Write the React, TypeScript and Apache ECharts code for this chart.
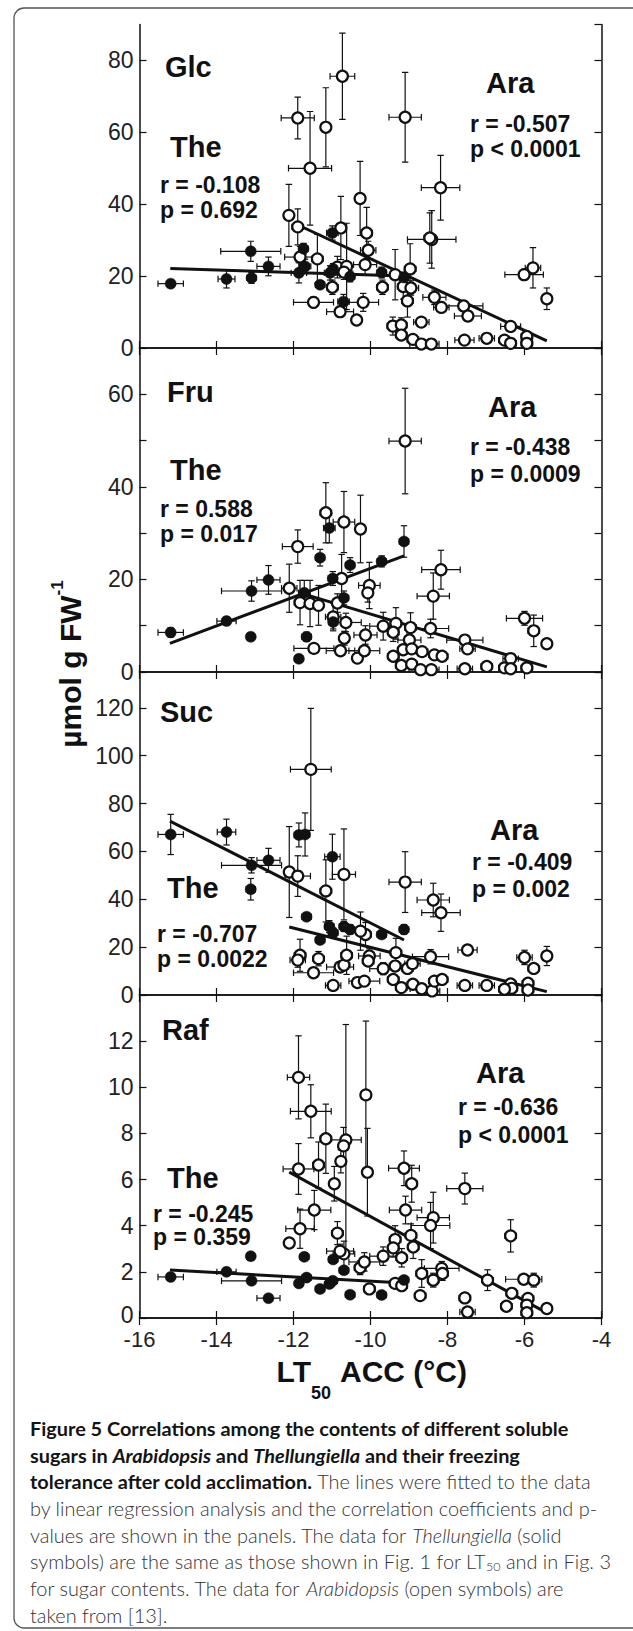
import React, { useEffect, useRef } from "react";
import * as echarts from "echarts";

// ---------------- data: [LT50 (°C), content, xErr, yErr] ----------------
const xTicks = [-16, -14, -12, -10, -8, -6, -4];
const panelNames = ["Glc", "Fru", "Suc", "Raf"];
const yMax = [90, 70, 135, 14];
const yInterval = [20, 10, 20, 2];
const yLabelStep = [20, 20, 20, 2];

const glcThe = [
  [-15.19, 17.9, 0.33, 1.0], [-13.74, 19.2, 0.22, 2.5], [-13.11, 26.9, 0.78, 2.8], [-13.09, 19.5, 0.12, 1.5],
  [-12.65, 22.7, 0.3, 2.6], [-11.86, 20.9, 0.2, 2.8], [-11.7, 22.7, 0.15, 2.0], [-11.74, 27.6, 0.12, 1.5],
  [-11.31, 17.6, 0.12, 1.0], [-10.99, 32.0, 0.15, 2.0], [-11.05, 20.9, 0.15, 2.0], [-10.97, 22.0, 0.1, 1.5],
  [-10.7, 12.9, 0.15, 2.0], [-10.53, 19.9, 0.12, 1.5], [-9.71, 21.0, 0.12, 1.5], [-9.13, 19.6, 0.12, 1.5],
];
const glcAra = [
  [-11.89, 64.0, 0.43, 5.8], [-11.16, 61.4, 0.1, 11.0], [-11.57, 50.0, 0.56, 15.8], [-10.73, 75.6, 0.32, 12.0],
  [-9.1, 64.2, 0.42, 12.5], [-8.18, 44.6, 0.5, 9.0], [-10.27, 41.6, 0.1, 10.3], [-10.1, 32.0, 0.15, 7.1],
  [-10.06, 27.2, 0.2, 2.5], [-12.12, 36.9, 0.1, 8.6], [-11.89, 33.7, 0.15, 5.0], [-10.77, 33.4, 0.1, 8.8],
  [-11.83, 25.3, 0.4, 3.0], [-11.38, 24.8, 0.15, 6.8], [-10.86, 22.5, 0.15, 3.0], [-10.62, 22.7, 0.12, 12.0],
  [-10.14, 23.2, 0.3, 3.0], [-10.69, 21.1, 0.12, 2.0], [-9.36, 20.4, 0.3, 7.0], [-8.97, 22.0, 0.15, 7.0],
  [-8.41, 30.2, 0.63, 8.0], [-8.46, 30.6, 0.15, 7.0], [-9.69, 16.9, 0.15, 2.0], [-9.15, 17.1, 0.15, 3.5],
  [-8.95, 16.7, 0.2, 2.0], [-9.04, 13.1, 0.15, 4.5], [-8.34, 14.1, 0.3, 2.0], [-8.16, 11.3, 0.2, 1.5],
  [-7.58, 11.7, 0.5, 1.5], [-7.47, 8.9, 0.35, 1.5], [-10.99, 16.9, 0.15, 2.0], [-11.48, 12.7, 0.52, 1.5],
  [-10.79, 10.1, 0.35, 1.5], [-10.36, 7.8, 0.12, 1.0], [-10.19, 12.7, 0.4, 2.5], [-9.42, 6.1, 0.15, 2.5],
  [-9.2, 6.4, 0.15, 2.0], [-8.68, 7.2, 0.2, 1.0], [-9.2, 3.6, 0.15, 1.0], [-8.9, 2.4, 0.15, 1.0],
  [-8.68, 1.1, 0.3, 0.8], [-8.42, 1.1, 0.2, 0.8], [-7.56, 2.2, 0.25, 0.8], [-6.98, 2.7, 0.2, 0.8],
  [-6.52, 2.2, 0.15, 0.8], [-6.36, 1.3, 0.15, 0.8], [-6.36, 6.0, 0.26, 1.0], [-5.94, 3.2, 0.15, 1.0],
  [-5.94, 1.3, 0.15, 0.8], [-6.01, 20.4, 0.5, 1.5], [-5.78, 22.3, 0.2, 5.6], [-5.42, 13.7, 0.12, 3.0],
];
const fruThe = [
  [-15.19, 8.55, 0.33, 1.0], [-13.74, 11.0, 0.25, 0.8], [-13.11, 7.6, 0.1, 0.8], [-13.09, 17.5, 0.78, 2.2],
  [-12.65, 19.9, 0.3, 3.1], [-11.86, 2.85, 0.1, 0.5], [-11.66, 7.6, 0.12, 1.0], [-11.72, 17.1, 0.15, 2.7],
  [-11.31, 24.7, 0.12, 1.8], [-11.07, 31.1, 0.15, 3.2], [-10.98, 20.2, 0.12, 1.5], [-10.97, 10.8, 0.12, 1.5],
  [-10.69, 16.0, 0.12, 1.5], [-10.53, 23.1, 0.12, 1.6], [-9.71, 23.9, 0.12, 1.2], [-9.13, 28.2, 0.12, 3.4],
];
const fruAra = [
  [-9.1, 49.9, 0.42, 11.4], [-11.16, 34.4, 0.15, 6.5], [-10.69, 32.4, 0.28, 6.6], [-10.26, 30.9, 0.1, 7.3],
  [-11.89, 27.1, 0.4, 3.6], [-10.75, 20.2, 0.12, 5.2], [-12.11, 18.1, 0.2, 5.2], [-10.03, 18.7, 0.28, 5.0],
  [-10.07, 17.1, 0.12, 2.0], [-8.17, 22.1, 0.5, 4.2], [-8.37, 16.4, 0.42, 5.0], [-11.83, 15.0, 0.15, 4.8],
  [-11.57, 14.8, 0.12, 5.0], [-11.35, 14.4, 0.12, 4.3], [-10.86, 14.9, 0.12, 2.0], [-10.97, 11.9, 0.2, 3.0],
  [-10.64, 10.7, 0.4, 2.0], [-10.68, 7.3, 0.12, 1.5], [-10.13, 8.0, 0.3, 2.0], [-11.47, 5.1, 0.52, 1.0],
  [-10.78, 4.6, 0.37, 1.0], [-10.34, 3.0, 0.12, 0.8], [-10.16, 4.6, 0.4, 1.0], [-9.67, 9.9, 0.35, 3.0],
  [-9.34, 10.5, 0.15, 3.4], [-9.41, 8.6, 0.15, 2.0], [-8.96, 9.6, 0.15, 3.2], [-8.99, 6.9, 0.3, 1.5],
  [-8.44, 9.4, 0.47, 2.0], [-9.15, 4.8, 0.15, 1.0], [-8.93, 5.0, 0.15, 1.0], [-8.66, 4.4, 0.15, 1.0],
  [-9.41, 3.4, 0.15, 0.8], [-8.34, 3.7, 0.15, 0.8], [-8.14, 3.4, 0.15, 0.8], [-9.2, 1.4, 0.15, 0.6],
  [-8.93, 1.7, 0.15, 0.6], [-8.7, 0.5, 0.3, 0.4], [-8.42, 0.5, 0.2, 0.4], [-7.55, 6.9, 0.47, 1.0],
  [-7.48, 5.0, 0.2, 1.0], [-7.55, 0.7, 0.2, 0.4], [-6.98, 1.2, 0.15, 0.4], [-6.52, 0.9, 0.15, 0.4],
  [-6.36, 2.9, 0.2, 0.8], [-6.36, 0.7, 0.15, 0.4], [-6.0, 11.6, 0.47, 1.5], [-5.76, 8.9, 0.15, 3.4],
  [-5.94, 0.9, 0.15, 0.4], [-5.42, 6.1, 0.12, 1.0],
];
const sucThe = [
  [-15.19, 67.1, 0.33, 8.4], [-13.74, 68.1, 0.24, 5.4], [-13.09, 54.2, 0.78, 3.2], [-13.11, 44.2, 0.12, 4.5],
  [-12.65, 56.3, 0.3, 5.0], [-11.86, 66.9, 0.12, 5.0], [-11.7, 67.1, 0.12, 9.0], [-10.99, 57.8, 0.2, 9.4],
  [-11.66, 32.7, 0.12, 1.5], [-11.31, 23.0, 0.12, 1.5], [-11.07, 28.6, 0.12, 2.5], [-10.97, 26.0, 0.12, 2.0],
  [-10.69, 28.6, 0.12, 2.0], [-10.53, 27.4, 0.12, 2.0], [-9.71, 25.3, 0.12, 1.5], [-9.13, 27.4, 0.12, 2.0],
];
const sucAra = [
  [-11.55, 94.3, 0.53, 25.5], [-12.11, 51.4, 0.1, 19.0], [-11.89, 49.7, 0.33, 8.5], [-10.69, 50.4, 0.3, 19.0],
  [-11.16, 43.5, 0.15, 13.0], [-9.1, 47.2, 0.42, 12.7], [-8.37, 39.7, 0.42, 7.0], [-8.17, 34.4, 0.5, 7.8],
  [-10.13, 25.3, 0.15, 5.0], [-10.26, 26.7, 0.1, 8.0], [-11.83, 16.6, 0.15, 6.7], [-11.89, 14.6, 0.2, 3.0],
  [-11.48, 9.3, 0.52, 2.0], [-11.35, 15.2, 0.15, 3.0], [-10.97, 4.0, 0.2, 1.5], [-10.79, 11.7, 0.35, 2.0],
  [-10.69, 12.5, 0.15, 2.0], [-10.62, 16.6, 0.15, 8.0], [-10.03, 16.3, 0.28, 3.0], [-10.06, 14.2, 0.15, 2.0],
  [-10.34, 5.2, 0.12, 1.5], [-10.16, 5.8, 0.4, 1.5], [-9.67, 11.0, 0.35, 2.5], [-9.34, 17.7, 0.15, 6.0],
  [-9.36, 12.1, 0.15, 2.0], [-9.41, 6.5, 0.15, 2.0], [-9.2, 3.1, 0.15, 1.0], [-9.04, 11.1, 0.15, 2.0],
  [-8.91, 13.1, 0.2, 2.0], [-8.9, 4.5, 0.15, 1.0], [-8.67, 2.6, 0.3, 1.0], [-8.4, 1.7, 0.2, 0.8],
  [-8.34, 5.8, 0.15, 1.0], [-8.14, 6.5, 0.15, 1.0], [-8.44, 16.0, 0.47, 3.0], [-7.48, 18.8, 0.25, 2.0],
  [-7.55, 4.0, 0.2, 1.0], [-6.98, 4.0, 0.2, 1.0], [-6.0, 15.7, 0.2, 3.0], [-5.42, 16.3, 0.12, 4.0],
  [-5.76, 11.1, 0.15, 2.0], [-6.36, 4.6, 0.15, 1.0], [-6.33, 2.8, 0.15, 1.0], [-5.91, 4.9, 0.15, 1.0],
  [-5.91, 2.1, 0.15, 0.8], [-6.52, 2.4, 0.15, 0.8],
];
const rafThe = [
  [-15.19, 1.78, 0.33, 0.1], [-13.74, 2.0, 0.25, 0.1], [-13.09, 1.61, 0.78, 0.1], [-13.11, 2.68, 0.1, 0.1],
  [-12.65, 0.86, 0.3, 0.1], [-11.86, 1.5, 0.1, 0.1], [-11.66, 1.75, 0.12, 0.15], [-11.72, 2.65, 0.12, 0.15],
  [-11.31, 1.26, 0.12, 0.1], [-10.97, 2.54, 0.12, 0.15], [-11.07, 1.47, 0.12, 0.1], [-10.98, 1.61, 0.12, 0.1],
  [-10.69, 2.07, 0.12, 0.15], [-10.53, 1.01, 0.12, 0.1], [-9.71, 1.0, 0.12, 0.1], [-9.13, 1.65, 0.12, 0.15],
];
const rafAra = [
  [-11.87, 10.43, 0.29, 1.8], [-11.55, 8.96, 0.53, 1.15], [-10.12, 9.67, 0.12, 3.2], [-11.16, 7.77, 0.15, 1.5],
  [-10.64, 7.72, 0.4, 5.0], [-10.7, 7.46, 0.12, 0.8], [-11.87, 6.46, 0.4, 1.1], [-11.35, 6.63, 0.15, 1.0],
  [-10.77, 6.79, 0.12, 0.5], [-10.08, 6.32, 0.12, 1.9], [-10.94, 5.82, 0.12, 0.75], [-11.46, 4.68, 0.43, 0.85],
  [-11.83, 3.87, 0.37, 0.85], [-12.11, 3.25, 0.1, 0.2], [-10.86, 3.68, 0.15, 0.5], [-10.69, 2.78, 0.28, 0.55],
  [-10.79, 2.9, 0.35, 0.3], [-10.27, 2.18, 0.15, 0.3], [-10.16, 2.43, 0.4, 0.4], [-9.67, 2.68, 0.35, 0.4],
  [-9.36, 3.4, 0.15, 0.6], [-9.41, 3.04, 0.15, 0.4], [-9.19, 2.61, 0.15, 0.4], [-9.13, 6.49, 0.4, 0.75],
  [-8.93, 5.82, 0.15, 0.8], [-9.09, 4.68, 0.42, 0.6], [-8.95, 3.58, 0.15, 0.5], [-8.89, 3.08, 0.15, 0.5],
  [-8.37, 4.35, 0.42, 1.1], [-8.44, 4.01, 0.5, 1.0], [-7.55, 5.61, 0.47, 0.67], [-8.67, 1.93, 0.15, 0.6],
  [-8.37, 1.64, 0.15, 0.3], [-8.15, 2.15, 0.45, 0.3], [-8.13, 1.93, 0.15, 0.3], [-8.71, 0.97, 0.15, 0.2],
  [-10.03, 1.26, 0.15, 0.2], [-9.36, 1.5, 0.15, 0.2], [-9.19, 1.4, 0.15, 0.2], [-7.55, 0.87, 0.15, 0.2],
  [-7.48, 0.26, 0.2, 0.2], [-6.96, 1.64, 0.15, 0.45], [-6.36, 3.56, 0.15, 0.7], [-6.02, 1.68, 0.47, 0.2],
  [-5.76, 1.64, 0.15, 0.3], [-6.33, 1.07, 0.15, 0.2], [-5.91, 0.85, 0.15, 0.2], [-6.47, 0.51, 0.15, 0.2],
  [-5.94, 0.56, 0.15, 0.2], [-5.94, 0.23, 0.15, 0.15], [-5.42, 0.41, 0.12, 0.15],
];

// regression line end points
const glcTheFit = [[-15.2, 22.1], [-9.13, 20.0]];
const glcAraFit = [[-11.8, 33.8], [-5.42, 2.0]];
const fruTheFit = [[-15.21, 6.2], [-9.13, 25.1]];
const fruAraFit = [[-11.79, 17.0], [-5.42, 1.1]];
const sucTheFit = [[-15.21, 72.7], [-9.13, 23.0]];
const sucAraFit = [[-12.11, 28.4], [-5.42, 1.4]];
const rafTheFit = [[-15.21, 2.08], [-9.13, 1.52]];
const rafAraFit = [[-12.11, 6.32], [-5.42, 0.22]];

const statsThe = [["r = -0.108", "p = 0.692"], ["r = 0.588", "p = 0.017"], ["r = -0.707", "p = 0.0022"], ["r = -0.245", "p = 0.359"]];
const statsAra = [["r = -0.507", "p < 0.0001"], ["r = -0.438", "p = 0.0009"], ["r = -0.409", "p = 0.002"], ["r = -0.636", "p < 0.0001"]];

const theSets = [glcThe, fruThe, sucThe, rafThe];
const araSets = [glcAra, fruAra, sucAra, rafAra];
const theFits = [glcTheFit, fruTheFit, sucTheFit, rafTheFit];
const araFits = [glcAraFit, fruAraFit, sucAraFit, rafAraFit];

// ---------------- layout ----------------
const W = 633;
const H = 1631;
const INK = "#111";
const AX = "'Liberation Sans', Arial, Helvetica, sans-serif";
const CAP = "Lato, 'Open Sans', sans-serif";
const gridLeft = 139.5;
const gridWidth = 462;
const gridTops = [24.5, 348, 672, 995];
const gridHeights = [323.5, 324, 323, 323];

// text anchors: [x, baseline]
const nameAt = [[165, 77], [167, 402], [160, 722], [162, 1040]];
const theAt = [[170, 157], [170, 480], [167, 898], [167, 1188]];
const theStatAt = [[160, 193, 218], [160, 517, 542], [157, 942, 967], [153, 1222, 1245]];
const araAt = [[486, 93], [488, 417], [490, 840], [476, 1083]];
const araStatAt = [[470, 132, 157], [470, 455, 482], [472, 870, 897], [458, 1115, 1143]];

const captionLines = [
  "{b|Figure 5 Correlations among the contents of different soluble}",
  "{b|sugars in }{bi|Arabidopsis}{b| and }{bi|Thellungiella}{b| and their freezing}",
  "{b|tolerance after cold acclimation.}{r| The lines were fitted to the data}",
  "{r|by linear regression analysis and the correlation coefficients and p-}",
  "{r|values are shown in the panels. The data for }{i|Thellungiella}{r| (solid}",
  "{r|symbols) are the same as those shown in Fig. 1 for LT}{sub|50}{r| and in Fig. 3}",
  "{r|for sugar contents. The data for }{i|Arabidopsis}{r| (open symbols) are}",
  "{r|taken from [13].}",
];
const captionBase = [1435, 1461.7, 1488.3, 1515, 1541.7, 1568.3, 1595, 1621.7];

function errRender(_params: any, api: any) {
  const x = api.value(0);
  const y = api.value(1);
  const xe = api.value(2);
  const ye = api.value(3);
  const l = api.coord([x - xe, y]);
  const r = api.coord([x + xe, y]);
  const t = api.coord([x, y + ye]);
  const b = api.coord([x, y - ye]);
  const cap = 3.2;
  const st = { stroke: INK, lineWidth: 1.2, fill: "none" };
  const ch: any[] = [];
  if (xe > 0) {
    ch.push({ type: "line", shape: { x1: l[0], y1: l[1], x2: r[0], y2: r[1] }, style: st });
    ch.push({ type: "line", shape: { x1: l[0], y1: l[1] - cap, x2: l[0], y2: l[1] + cap }, style: st });
    ch.push({ type: "line", shape: { x1: r[0], y1: r[1] - cap, x2: r[0], y2: r[1] + cap }, style: st });
  }
  if (ye > 0) {
    ch.push({ type: "line", shape: { x1: t[0], y1: t[1], x2: b[0], y2: b[1] }, style: st });
    ch.push({ type: "line", shape: { x1: t[0] - cap, y1: t[1], x2: t[0] + cap, y2: t[1] }, style: st });
    ch.push({ type: "line", shape: { x1: b[0] - cap, y1: b[1], x2: b[0] + cap, y2: b[1] }, style: st });
  }
  return { type: "group", children: ch };
}

function txt(text: string, x: number, base: number, size: number, weight = "bold") {
  return {
    type: "text",
    z: 50,
    style: {
      text,
      x,
      y: base - 0.35 * size,
      fontSize: size,
      fontWeight: weight,
      fontFamily: AX,
      fill: INK,
      align: "left",
      textAlign: "left",
      verticalAlign: "middle",
      textVerticalAlign: "middle",
    },
  };
}

function buildOption() {
  const grid: any[] = [];
  const xAxis: any[] = [];
  const yAxis: any[] = [];
  const series: any[] = [];
  const lineCfg = { show: true, lineStyle: { color: INK, width: 1.5 } };
  const tickCfg = { show: true, inside: true, length: 7, lineStyle: { color: INK, width: 1.2 } };

  for (let i = 0; i < 4; i++) {
    grid.push({ left: gridLeft, width: gridWidth, top: gridTops[i], height: gridHeights[i], containLabel: false });
    const xBase = {
      type: "value",
      gridIndex: i,
      min: xTicks[0],
      max: xTicks[xTicks.length - 1],
      interval: 2,
      splitLine: { show: false },
      axisLine: lineCfg,
      axisTick: tickCfg,
    };
    xAxis.push({
      ...xBase,
      position: "bottom",
      axisLabel: {
        show: i === 3,
        fontSize: 22,
        fontFamily: AX,
        color: "#222",
        margin: 10,
        showMinLabel: true,
        showMaxLabel: true,
      },
    });
    xAxis.push({ ...xBase, position: "top", axisLabel: { show: false } });
    const step = yLabelStep[i];
    const last = i === 3;
    const yBase = {
      type: "value",
      gridIndex: i,
      min: 0,
      max: yMax[i],
      interval: yInterval[i],
      splitLine: { show: false },
      axisLine: lineCfg,
      axisTick: tickCfg,
    };
    yAxis.push({
      ...yBase,
      position: "left",
      axisLabel: {
        show: true,
        fontSize: 23,
        fontFamily: AX,
        color: "#222",
        margin: 6,
        showMaxLabel: false,
        formatter: (v: number) => {
          if (Math.round(v) % step !== 0) return "";
          if (last && v === 0) return "{z|0}";
          return String(v);
        },
        rich: { z: { fontSize: 23, fontFamily: AX, color: "#222", padding: [0, 0, 6, 0] } },
      },
    });
    yAxis.push({ ...yBase, position: "right", axisLabel: { show: false } });

    const xi = i * 2;
    const yi = i * 2;
    const errData = [...araSets[i], ...theSets[i]];
    series.push({
      type: "custom",
      xAxisIndex: xi,
      yAxisIndex: yi,
      data: errData,
      renderItem: errRender,
      encode: { x: 0, y: 1 },
      clip: true,
      z: 2,
      silent: true,
    });
    series.push({
      type: "line",
      xAxisIndex: xi,
      yAxisIndex: yi,
      data: araFits[i],
      showSymbol: false,
      lineStyle: { color: INK, width: 3 },
      z: 3,
      silent: true,
    });
    series.push({
      type: "line",
      xAxisIndex: xi,
      yAxisIndex: yi,
      data: theFits[i],
      showSymbol: false,
      lineStyle: { color: INK, width: 3 },
      z: 3,
      silent: true,
    });
    series.push({
      type: "scatter",
      xAxisIndex: xi,
      yAxisIndex: yi,
      data: araSets[i].map((d) => [d[0], d[1]]),
      symbol: "circle",
      symbolSize: 11,
      itemStyle: { color: "#fff", borderColor: INK, borderWidth: 2.2, opacity: 1 },
      z: 4,
      silent: true,
    });
    series.push({
      type: "scatter",
      xAxisIndex: xi,
      yAxisIndex: yi,
      data: theSets[i].map((d) => [d[0], d[1]]),
      symbol: "circle",
      symbolSize: 11,
      itemStyle: { color: INK, borderColor: INK, borderWidth: 0.5, opacity: 1 },
      z: 5,
      silent: true,
    });
  }

  const graphic: any[] = [];
  graphic.push({
    type: "rect",
    z: 0,
    shape: { x: 14, y: 8, width: 640, height: 1620, r: 10 },
    style: { fill: "none", stroke: "#555", lineWidth: 1.3 },
    silent: true,
  });
  for (let i = 0; i < 4; i++) {
    graphic.push(txt(panelNames[i], nameAt[i][0], nameAt[i][1], 29));
    graphic.push(txt("The", theAt[i][0], theAt[i][1], 29));
    graphic.push(txt(statsThe[i][0], theStatAt[i][0], theStatAt[i][1], 23));
    graphic.push(txt(statsThe[i][1], theStatAt[i][0], theStatAt[i][2], 23));
    graphic.push(txt("Ara", araAt[i][0], araAt[i][1], 29));
    graphic.push(txt(statsAra[i][0], araStatAt[i][0], araStatAt[i][1], 23));
    graphic.push(txt(statsAra[i][1], araStatAt[i][0], araStatAt[i][2], 23));
  }
  // x axis title
  graphic.push({
    type: "text",
    z: 50,
    style: {
      text: "LT", x: 311, y: 1382 - 0.35 * 30, fontSize: 30, fontWeight: "bold", fontFamily: AX, fill: INK,
      align: "right", textAlign: "right", verticalAlign: "middle", textVerticalAlign: "middle",
    },
  });
  graphic.push({
    type: "text",
    z: 50,
    style: {
      text: "50", x: 311, y: 1399 - 0.35 * 18, fontSize: 18, fontWeight: "bold", fontFamily: AX, fill: INK,
      align: "left", textAlign: "left", verticalAlign: "middle", textVerticalAlign: "middle",
    },
  });
  graphic.push({
    type: "text",
    z: 50,
    style: {
      text: "ACC (°C)", x: 340, y: 1382 - 0.35 * 30, fontSize: 30, fontWeight: "bold", fontFamily: AX, fill: INK,
      align: "left", textAlign: "left", verticalAlign: "middle", textVerticalAlign: "middle",
    },
  });
  // y axis title (rotated)
  graphic.push({
    type: "text",
    z: 50,
    x: 67,
    y: 664,
    rotation: Math.PI / 2,
    style: {
      text: "{m|µmol g FW}{s|-1}",
      x: 0,
      y: 0,
      align: "center",
      textAlign: "center",
      verticalAlign: "middle",
      textVerticalAlign: "middle",
      rich: {
        m: { fontSize: 30, fontWeight: "bold", fontFamily: AX, fill: INK, lineHeight: 36, verticalAlign: "bottom" },
        s: { fontSize: 17, fontWeight: "bold", fontFamily: AX, fill: INK, lineHeight: 17, verticalAlign: "top" },
      },
    },
  });
  // caption
  const capSize = 19.9;
  const rich = {
    b: { fontSize: capSize, fontWeight: "bold", fontFamily: CAP, fill: "#141414", lineHeight: 24 },
    bi: { fontSize: capSize, fontWeight: "bold", fontStyle: "italic", fontFamily: CAP, fill: "#141414", lineHeight: 24 },
    r: { fontSize: capSize, fontWeight: 300, fontFamily: CAP, fill: "#333", lineHeight: 24 },
    i: { fontSize: capSize, fontWeight: 300, fontStyle: "italic", fontFamily: CAP, fill: "#333", lineHeight: 24 },
    sub: { fontSize: 12.5, fontWeight: 300, fontFamily: CAP, fill: "#333", lineHeight: 13, verticalAlign: "bottom" },
  };
  captionLines.forEach((line, k) => {
    graphic.push({
      type: "text",
      z: 50,
      style: {
        text: line,
        x: 30,
        y: captionBase[k] - 0.35 * capSize,
        fontSize: capSize,
        fontFamily: CAP,
        align: "left",
        textAlign: "left",
        verticalAlign: "middle",
        textVerticalAlign: "middle",
        rich,
      },
    });
  });

  return { animation: false, grid, xAxis, yAxis, series, graphic };
}

export default function App() {
  const ref = useRef<HTMLDivElement | null>(null);
  useEffect(() => {
    if (!ref.current) return;
    const chart = echarts.init(ref.current, undefined, { renderer: "svg", width: W, height: H });
    chart.setOption(buildOption() as any);
    return () => chart.dispose();
  }, []);
  return <div ref={ref} style={{ position: "absolute", left: 0, top: 0, width: W, height: H, background: "#fff" }} />;
}
